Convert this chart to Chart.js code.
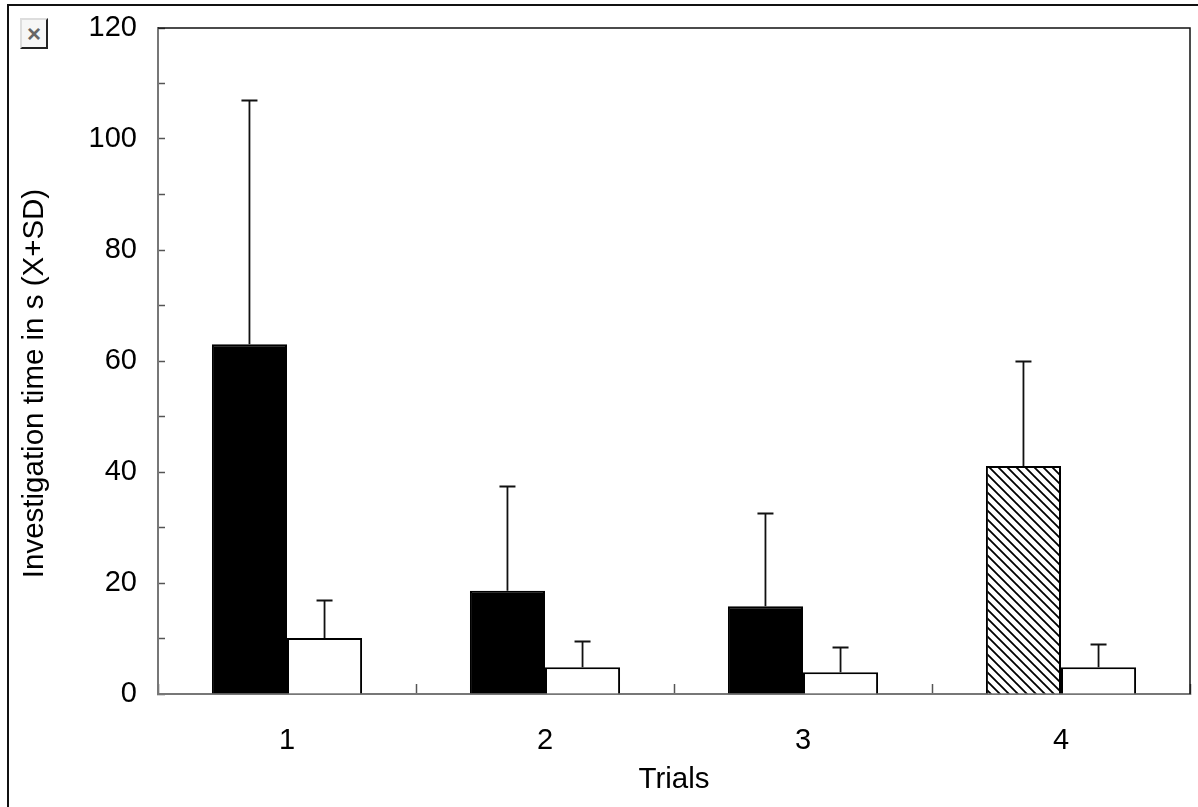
<!DOCTYPE html>
<html>
<head>
<meta charset="utf-8">
<title>Investigation time</title>
<script src="https://cdn.jsdelivr.net/npm/chart.js@4"></script>
<style>
  html, body { margin: 0; padding: 0; background: #fff; overflow: hidden; }
  #wrap { position: relative; width: 1198px; height: 807px; }
  #frame { position: absolute; left: 7px; top: 4px; right: 0; bottom: 0; border-left: 2px solid #111; border-top: 2px solid #111; }
  #icon {
    position: absolute; left: 20px; top: 18px; width: 24px; height: 27px;
    text-align: center; font: bold 24px/27px "Liberation Sans", sans-serif; color: #666;
    border: 2px solid #ddd; border-right: 2px solid #222; border-bottom: 2px solid #222;
    background: #f6f6f6;
  }
  canvas { position: absolute; left: 0; top: 0; }
</style>
</head>
<body>
<div id="wrap">
  <canvas id="chart" width="1198" height="807"></canvas>
  <div id="frame"></div>
  <div id="icon">×</div>
</div>
<script>
  const categories = ['1', '2', '3', '4'];
  const firstMeans = [63, 18.6, 15.8, 41.1];
  const firstUpper = [107, 37.4, 32.6, 60];
  const secondMeans = [10.1, 4.8, 3.9, 4.8];
  const secondUpper = [17, 9.5, 8.5, 9];
  const hatchedIndex = 3;

  const fontFamily = "'Liberation Sans', Arial, sans-serif";

  // diagonal hatch, top left to bottom right
  const makeHatch = () => {
    const size = 9;
    const tile = document.createElement('canvas');
    tile.width = size;
    tile.height = size;
    const c = tile.getContext('2d');
    c.fillStyle = '#fff';
    c.fillRect(0, 0, size, size);
    c.strokeStyle = '#000';
    c.lineWidth = 1.8;
    c.beginPath();
    c.moveTo(-2, -2);
    c.lineTo(size + 2, size + 2);
    c.moveTo(-2 - size, -2);
    c.lineTo(2, size + 2);
    c.moveTo(size - 2, -2);
    c.lineTo(2 * size + 2, size + 2);
    c.stroke();
    return c.createPattern(tile, 'repeat');
  };

  const errorBars = {
    id: 'errorBars',
    afterDatasetsDraw(chart) {
      const { ctx } = chart;
      const y = chart.scales.y;
      [firstUpper, secondUpper].forEach((upper, i) => {
        const meta = chart.getDatasetMeta(i);
        upper.forEach((value, j) => {
          const bar = meta.data[j];
          const top = Math.round(y.getPixelForValue(value)) + 0.5;
          ctx.save();
          ctx.strokeStyle = '#111';
          ctx.lineWidth = 1.8;
          ctx.beginPath();
          ctx.moveTo(bar.x, bar.y);
          ctx.lineTo(bar.x, top);
          ctx.moveTo(bar.x - 8, top);
          ctx.lineTo(bar.x + 8, top);
          ctx.stroke();
          ctx.restore();
        });
      });
    },
  };

  const plotEdges = {
    id: 'plotEdges',
    afterDatasetsDraw(chart) {
      const { ctx, chartArea: a } = chart;
      ctx.save();
      ctx.strokeStyle = '#111';
      ctx.lineWidth = 1.5;
      ctx.beginPath();
      ctx.moveTo(a.left, a.top);
      ctx.lineTo(a.right, a.top);
      ctx.lineTo(a.right, a.bottom);
      ctx.stroke();
      ctx.restore();
    },
  };

  // the y title sits below the middle of the axis, the scale title can't do that
  const yTitle = {
    id: 'yTitle',
    afterDraw(chart) {
      const { ctx } = chart;
      ctx.save();
      ctx.translate(35, 383.5);
      ctx.rotate(-Math.PI / 2);
      ctx.font = `29.5px ${fontFamily}`;
      ctx.fillStyle = '#000';
      ctx.textAlign = 'center';
      ctx.textBaseline = 'middle';
      ctx.fillText('Investigation time in s (X+SD)', 0, 0);
      ctx.restore();
    },
  };

  const hatch = makeHatch();

  new Chart(document.getElementById('chart'), {
    type: 'bar',
    data: {
      labels: categories,
      datasets: [
        {
          data: firstMeans,
          backgroundColor: firstMeans.map((v, i) => (i === hatchedIndex ? hatch : '#000')),
          borderColor: '#000',
          borderWidth: 2,
          barPercentage: 1,
          categoryPercentage: 0.582,
        },
        {
          data: secondMeans,
          backgroundColor: '#fff',
          borderColor: '#000',
          borderWidth: 2,
          barPercentage: 1,
          categoryPercentage: 0.582,
        },
      ],
    },
    plugins: [errorBars, plotEdges, yTitle],
    options: {
      responsive: false,
      animation: false,
      layout: { padding: { left: 0, top: 28, right: 8, bottom: 0 } },
      plugins: { legend: { display: false }, tooltip: { enabled: false } },
      scales: {
        x: {
          afterFit: (scale) => { scale.height = 113; },
          grid: {
            display: true,
            drawOnChartArea: false,
            tickLength: -10,
            tickColor: '#555',
            tickWidth: 1.5,
          },
          border: { color: '#777', width: 2 },
          ticks: { color: '#000', font: { family: fontFamily, size: 29 }, padding: 40, maxRotation: 0 },
          title: { display: true, text: 'Trials', color: '#000', font: { family: fontFamily, size: 29.5 }, padding: { top: 9, bottom: 9 } },
        },
        y: {
          min: 0,
          max: 120,
          afterFit: (scale) => {
            scale.width = 158;
            scale.paddingTop = 0;
            scale.paddingBottom = 0;
          },
          grid: {
            display: true,
            drawOnChartArea: false,
            tickLength: -7,
            tickColor: '#555',
            tickWidth: 1.5,
          },
          border: { color: '#777', width: 2 },
          ticks: {
            stepSize: 10,
            autoSkip: false,
            color: '#000',
            font: { family: fontFamily, size: 29 },
            padding: 28,
            callback: (value) => (value % 20 === 0 ? value : ''),
          },
        },
      },
    },
  });
</script>
</body>
</html>
